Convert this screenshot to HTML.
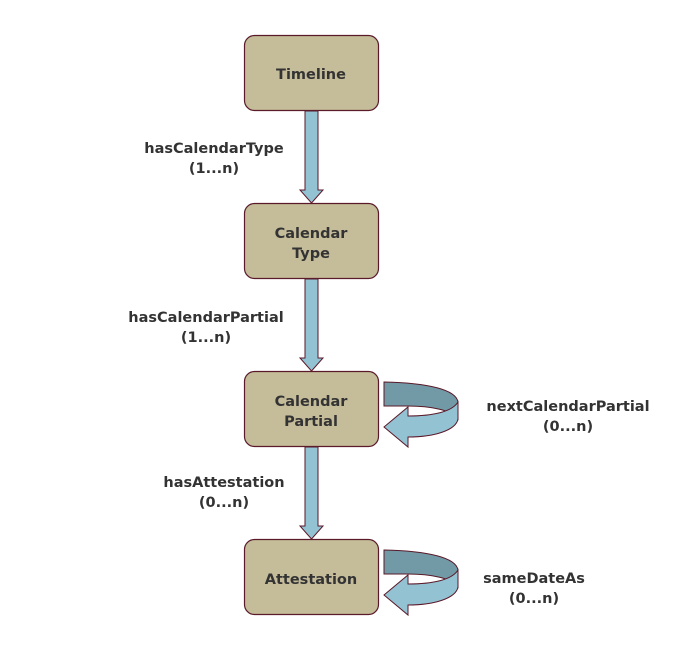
<!DOCTYPE html>
<html><head><style>
body{margin:0;background:#fff;}
svg text{font-family:"DejaVu Sans","Liberation Sans",sans-serif;font-weight:bold;fill:#333;}
</style></head><body>
<svg width="684" height="651" viewBox="0 0 684 651" xmlns="http://www.w3.org/2000/svg">
<defs>
<g id="arr">
<polygon points="305,0 318,0 318,79 323,79 311.5,92 300,79 305,79" fill="#93c3d3" stroke="#5a1a2a" stroke-width="1"/>
</g>
<g id="loop">
<path d="M384,0 C430,1 456,8 458,20 L458,37 C452,28 430,24 408,24 L384,24 Z" fill="#7199a6" stroke="#5a1a2a" stroke-width="1"/>
<path d="M458,20 L458,37 C456,48 435,55 408,55 L408,65 L384,45 L408,25 L408,34 C432,34 452,30 458,20 Z" fill="#93c3d3" stroke="#5a1a2a" stroke-width="1"/>
</g>
</defs>
<use href="#arr" transform="translate(0,111)"/>
<use href="#arr" transform="translate(0,279)"/>
<use href="#arr" transform="translate(0,447)"/>
<g fill="#c5bc9a" stroke="#5a1a2a" stroke-width="1.2">
<rect x="244.5" y="35.5" width="134" height="75" rx="10"/>
<rect x="244.5" y="203.5" width="134" height="75" rx="10"/>
<rect x="244.5" y="371.5" width="134" height="75" rx="10"/>
<rect x="244.5" y="539.5" width="134" height="75" rx="10"/>
</g>
<use href="#loop" transform="translate(0,382)"/>
<use href="#loop" transform="translate(0,550)"/>
<g font-size="14.5" text-anchor="middle">
<text x="311" y="79">Timeline</text>
<text x="311" y="238">Calendar</text>
<text x="311" y="258">Type</text>
<text x="311" y="406">Calendar</text>
<text x="311" y="426">Partial</text>
<text x="311" y="584">Attestation</text>
<text x="214" y="153">hasCalendarType</text>
<text x="214" y="173">(1...n)</text>
<text x="206" y="322">hasCalendarPartial</text>
<text x="206" y="342">(1...n)</text>
<text x="224" y="487">hasAttestation</text>
<text x="224" y="507">(0...n)</text>
<text x="568" y="411">nextCalendarPartial</text>
<text x="568" y="431">(0...n)</text>
<text x="534" y="583">sameDateAs</text>
<text x="534" y="603">(0...n)</text>
</g>
</svg>
</body></html>
